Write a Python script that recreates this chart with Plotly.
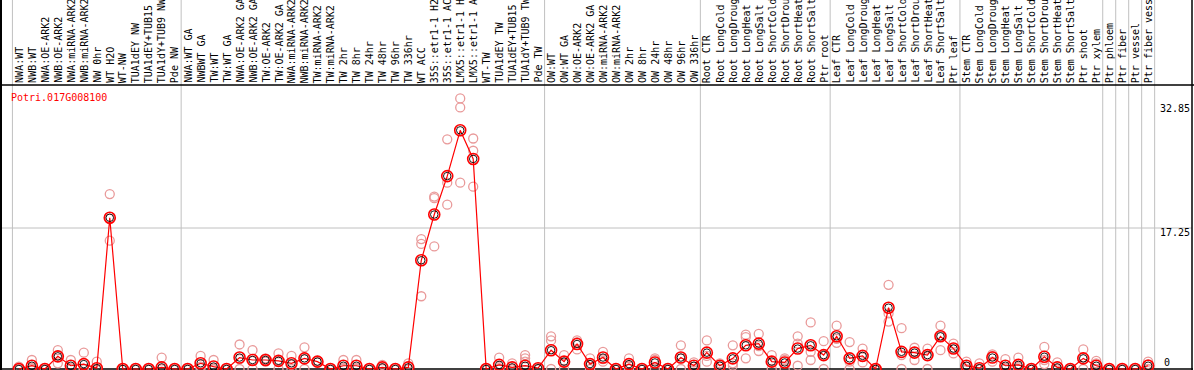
import plotly.graph_objects as go

W, H = 1194, 370

gene = "Potri.017G008100"

labels = [
    "NWA:WT", "NWB:WT", "NWA:OE-ARK2", "NWB:OE-ARK2", "NWA:miRNA-ARK2", "NWB:miRNA-ARK2",
    "NW 0hr", "WT H2O", "WT-NW", "TUA1dEY NW", "TUA1dEY+TUB15 NW", "TUA1dY+TUB9 NW", "Pde NW",
    "NWA:WT GA", "NWBWT GA", "TW:WT", "TW:WT GA", "NWA:OE-ARK2 GA", "NWB:OE-ARK2 GA",
    "TW:OE-ARK2", "TW:OE-ARK2 GA", "NWA:miRNA-ARK2 GA", "NWB:miRNA-ARK2 GA", "TW:miRNA-ARK2",
    "TW:miRNA-ARK2 GA", "TW 2hr", "TW 8hr", "TW 24hr", "TW 48hr", "TW 96hr", "TW 336hr",
    "WT ACC", "35S::etr1-1 H2O", "35S::etr1-1 ACC", "LMX5::etr1-1 H2O", "LMX5::etr1-1 ACC",
    "WT-TW", "TUA1dEY TW", "TUA1dEY+TUB15 TW", "TUA1dY+TUB9 TW", "Pde TW",
    "OW:WT", "OW:WT GA", "OW:OE-ARK2", "OW:OE-ARK2 GA", "OW:miRNA-ARK2", "OW:miRNA-ARK2 GA",
    "OW 2hr", "OW 8hr", "OW 24hr", "OW 48hr", "OW 96hr", "OW 336hr",
    "Root CTR", "Root LongCold", "Root LongDrought", "Root LongHeat", "Root LongSalt",
    "Root ShortCold", "Root ShortDrought", "Root ShortHeat", "Root ShortSalt", "Ptr root",
    "Leaf CTR", "Leaf LongCold", "Leaf LongDrought", "Leaf LongHeat", "Leaf LongSalt",
    "Leaf ShortCold", "Leaf ShortDrought", "Leaf ShortHeat", "Leaf ShortSalt", "Ptr leaf",
    "Stem CTR", "Stem LongCold", "Stem LongDrought", "Stem LongHeat", "Stem LongSalt",
    "Stem ShortCold", "Stem ShortDrought", "Stem ShortHeat", "Stem ShortSalt", "Ptr shoot",
    "Ptr xylem", "Ptr phloem", "Ptr fiber", "Ptr vessel", "Ptr fiber vessel",
]

mean_vals = [
    0.0, 0.4, 0.0, 1.55, 0.4, 0.6, 0.1, 18.5, 0.0, 0.0, 0.0, 0.2, 0.0,
    0.0, 0.7, 0.3, 0.0, 1.4, 1.1, 1.1, 1.0, 0.7, 1.3, 0.9, 0.0, 0.4, 0.4, 0.0,
    0.2, 0.0, 0.2, 13.3, 18.9, 23.6, 29.2, 25.7, 0.0, 0.5, 0.2, 0.4, 0.1,
    2.3, 0.9, 3.06, 0.6, 1.4, 0.0, 0.6, 0.0, 0.8, 0.0, 1.4, 0.4,
    2.0, 0.4, 1.3, 2.9, 3.1, 0.9, 0.8, 2.5, 2.9, 1.7,
    4.0, 1.3, 1.6, 0.0, 7.5, 2.1, 2.0, 1.7, 4.0, 2.5,
    0.4, 0.1, 1.4, 0.4, 0.5, 0.0, 1.5, 0.2, 0.0, 1.3, 0.4,
    0.0, 0.0, 0.0, 0.4,
]

rep1 = [
    0.3, 1.1, 0.0, 2.3, 1.1, 2.0, 0.9, 21.4, 0.0, 0.0, 0.0, 1.4, 0.0,
    0.0, 1.6, 1.1, 0.0, 3.0, 2.3, 1.3, 1.9, 1.6, 2.65, 1.0, 0.0, 1.1, 1.1, 0.0,
    0.5, 0.0, 0.7, 15.9, 21.1, 28.1, 33.1, 28.2, 0.0, 1.4, 0.7, 1.7, 0.1,
    4.0, 1.7, 3.5, 1.3, 2.1, 0.0, 1.3, 0.0, 1.3, 0.0, 2.9, 0.8,
    3.5, 0.7, 2.9, 4.2, 4.3, 1.7, 1.3, 4.0, 5.7, 3.4,
    5.3, 3.3, 2.5, 0.0, 10.3, 5.0, 2.6, 2.5, 5.3, 3.1,
    0.9, 0.7, 1.8, 1.2, 1.4, 0.0, 2.7, 0.8, 0.0, 2.4, 1.0,
    0.0, 0.0, 0.0, 0.9,
]

rep2 = [
    0.0, 0.1, 0.0, 0.7, 0.1, 0.0, 0.0, 15.7, 0.0, 0.0, 0.0, 0.0, 0.0,
    0.0, 0.3, 0.0, 0.0, 1.2, 1.0, 1.1, 1.0, 0.5, 1.2, 0.9, 0.0, 0.1, 0.1, 0.0,
    0.1, 0.0, 0.0, 15.3, 20.9, 22.8, 32.0, 26.7, 0.0, 0.1, 0.0, 1.3, 0.0,
    3.5, 0.9, 3.3, 0.5, 0.9, 0.0, 0.4, 0.0, 1.1, 0.0, 1.3, 0.3,
    1.6, 0.4, 0.7, 3.9, 2.8, 0.9, 1.1, 3.1, 2.1, 1.7,
    3.7, 0.9, 1.5, 0.0, 6.8, 1.7, 2.1, 1.6, 4.0, 2.5,
    0.3, 0.0, 1.6, 0.1, 0.2, 0.0, 1.1, 0.0, 0.0, 1.4, 0.7,
    0.0, 0.0, 0.0, 0.6,
]

rep3 = [
    0.0, 0.0, 0.0, 1.6, 0.0, 0.0, 0.0, 18.4, 0.0, 0.0, 0.0, 0.0, 0.0,
    0.0, 0.1, 0.0, 0.0, 0.0, 0.0, 0.9, 0.0, 0.0, 0.0, 0.8, 0.0, 0.0, 0.0, 0.0,
    0.0, 0.0, 0.0, 8.9, 15.0, 20.1, 22.8, 22.3, 0.0, 0.0, 0.0, 0.9, 0.0,
    0.0, 0.0, 2.4, 0.0, 1.2, 0.0, 0.0, 0.0, 0.0, 0.0, 0.0, 0.0,
    0.9, 0.0, 0.4, 1.3, 2.2, 0.0, 0.0, 0.4, 1.1, 0.0,
    3.2, 0.0, 0.8, 0.0, 5.8, 0.0, 1.1, 0.0, 2.3, 1.9,
    0.0, 0.0, 0.9, 0.0, 0.0, 0.0, 0.6, 0.0, 0.0, 0.0, 0.0,
    0.0, 0.0, 0.0, 0.0,
]

group_starts = [0, 13, 41, 53, 63, 73, 84, 85, 86, 87, 88]

y_ticks = [32.85, 17.25]

# --- layout geometry (pixels) ---
x0_px, dx_px = 18.9, 12.98      # centre of first category, category spacing
y0_px, dy_px = 369.0, 8.174     # pixel row of value 0, pixels per unit
header_px = 85                  # bottom of the rotated label band

x_range = [-x0_px / dx_px, (W - x0_px) / dx_px]
y_range = [-(H - y0_px) / dy_px, y0_px / dy_px]

def py(px):
    return 1 - px / H

def px_x(px):
    return px / W

xs = list(range(len(labels)))
font_mono = "DejaVu Sans Mono"

fig = go.Figure()

pink = "#E99A9A"
for reps in (rep1, rep2, rep3):
    fig.add_trace(go.Scatter(
        x=xs, y=reps, mode="markers",
        marker=dict(symbol="circle-open", size=9, color=pink, line=dict(width=1.3, color=pink)),
        showlegend=False, hoverinfo="skip",
    ))

fig.add_trace(go.Scatter(
    x=xs, y=mean_vals, mode="lines+markers",
    line=dict(color="#FF0000", width=1.2),
    marker=dict(symbol="circle-open", size=11, color="#FF0000", line=dict(width=1.6, color="#FF0000")),
    showlegend=False,
))
fig.add_trace(go.Scatter(
    x=xs, y=mean_vals, mode="markers",
    marker=dict(symbol="circle-open", size=7.5, color="#000000", line=dict(width=0.9, color="#000000")),
    showlegend=False, hoverinfo="skip",
))

shapes = []
gray = "#C0C0C0"
for g in group_starts:
    shapes.append(dict(type="line", xref="x", yref="paper", x0=g - 0.5, x1=g - 0.5,
                       y0=py(y0_px), y1=1, line=dict(color=gray, width=1), layer="below"))
for t in y_ticks[1:]:
    shapes.append(dict(type="line", xref="paper", yref="y", x0=px_x(2), x1=px_x(1192),
                       y0=t, y1=t, line=dict(color=gray, width=1), layer="below"))
# black frame lines
shapes.append(dict(type="line", xref="paper", yref="paper", x0=0, x1=1,
                   y0=py(header_px), y1=py(header_px), line=dict(color="black", width=1.5)))
shapes.append(dict(type="line", xref="paper", yref="y", x0=0, x1=px_x(1193),
                   y0=0, y1=0, line=dict(color="black", width=1.5), layer="below"))
shapes.append(dict(type="line", xref="paper", yref="paper", x0=px_x(1), x1=px_x(1),
                   y0=0, y1=1, line=dict(color="black", width=2)))
shapes.append(dict(type="line", xref="paper", yref="paper", x0=px_x(1192), x1=px_x(1192),
                   y0=0, y1=1, line=dict(color="black", width=1.5)))

annotations = []
for i, lab in enumerate(labels):
    annotations.append(dict(x=i, y=py(header_px - 1), xref="x", yref="paper", text=lab,
                            textangle=-90, showarrow=False, xanchor="center", yanchor="bottom",
                            font=dict(family=font_mono, size=10, color="black"), borderpad=0))

annotations.append(dict(x=px_x(9), y=py(97), xref="paper", yref="paper", text=gene,
                        showarrow=False, xanchor="left", yanchor="middle",
                        font=dict(family=font_mono, size=10, color="#FF0000")))
annotations.append(dict(x=px_x(1191), y=py(108), xref="paper", yref="paper", text=f"{y_ticks[0]:.2f}",
                        showarrow=False, xanchor="right", yanchor="middle", borderpad=0,
                        font=dict(family=font_mono, size=10, color="black")))
annotations.append(dict(x=px_x(1191), y=py(232), xref="paper", yref="paper", text=f"{y_ticks[1]:.2f}",
                        showarrow=False, xanchor="right", yanchor="middle", borderpad=0,
                        font=dict(family=font_mono, size=10, color="black")))
annotations.append(dict(x=px_x(1167), y=py(362), xref="paper", yref="paper", text="0",
                        showarrow=False, xanchor="center", yanchor="middle", borderpad=0,
                        font=dict(family=font_mono, size=10, color="black")))

fig.update_layout(
    width=W, height=H, margin=dict(l=0, r=0, t=0, b=0, pad=0),
    paper_bgcolor="white", plot_bgcolor="white",
    xaxis=dict(range=x_range, visible=False, fixedrange=True),
    yaxis=dict(range=y_range, visible=False, fixedrange=True),
    shapes=shapes, annotations=annotations, showlegend=False,
)

fig.write_html("out.html", config={"displayModeBar": False},
               post_script="document.body.style.margin='0';document.body.style.overflow='hidden';")
